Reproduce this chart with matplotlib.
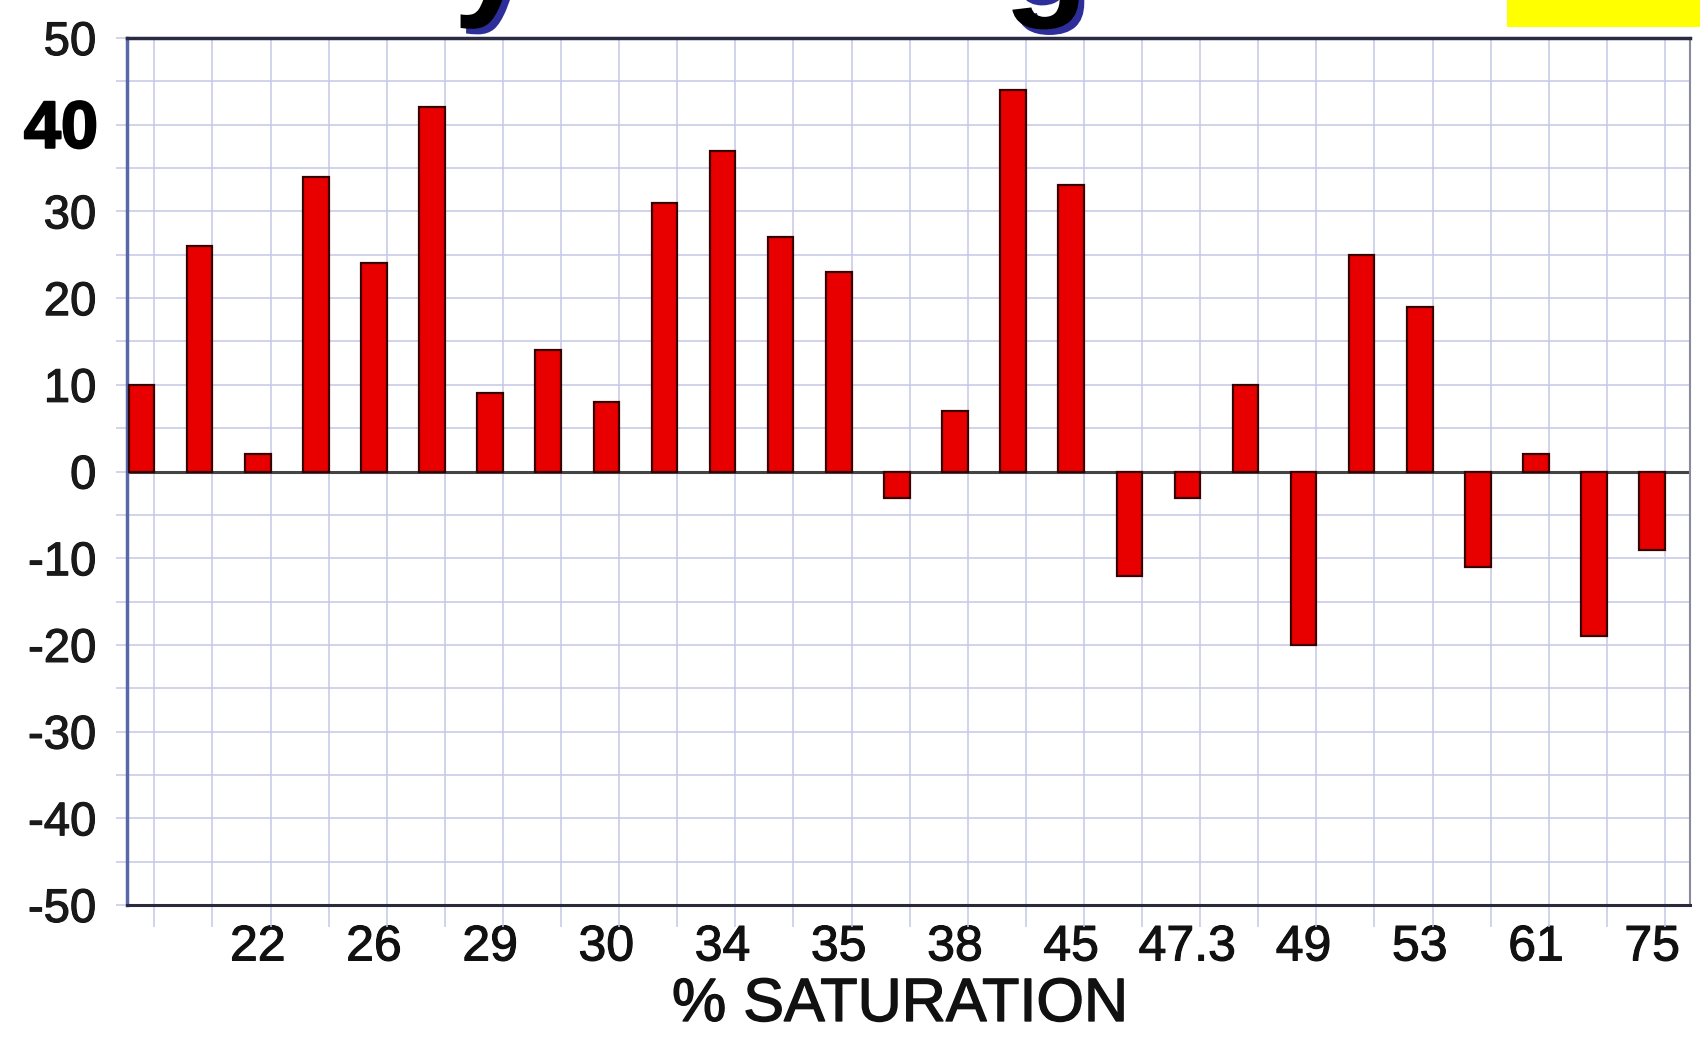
import matplotlib
matplotlib.use("Agg")
import matplotlib.pyplot as plt
import matplotlib.patheffects as pe
from matplotlib.patches import Rectangle
from matplotlib.ticker import FixedLocator, MultipleLocator

# ---- data ----
values = [10, 26, 2, 34, 24, 42, 9, 14, 8, 31, 37, 27, 23, -3, 7, 44, 33,
          -12, -3, 10, -20, 25, 19, -11, 2, -19, -9]
tick_labels = ["22", "26", "29", "30", "34", "35", "38", "45", "47.3",
               "49", "53", "61", "75"]
label_every = 2          # a label under every second bar, starting at the third
y_ticks = [50, 40, 30, 20, 10, 0, -10, -20, -30, -40, -50]
x_title = "% SATURATION"

W, H, DPI = 1700, 1038, 100
fig = plt.figure(figsize=(W / DPI, H / DPI), dpi=DPI)
fig.patch.set_facecolor("white")

ax = fig.add_axes([127 / W, 1 - 905 / H, (1690 - 127) / W, (905 - 38) / H])
ax.set_facecolor("white")

n = len(values)
xs = list(range(n))
bar_w = 0.44
ax.bar(xs, values, width=bar_w, color="#e80000", edgecolor="#3a0000",
       linewidth=1.6, zorder=3)

ax.set_xlim(-0.25, n - 1 + 0.65)
ax.set_ylim(-50, 50)

heavy = [pe.withStroke(linewidth=0.8, foreground="#111111")]

# horizontal grid every 5 units, labels every 10
ax.yaxis.set_major_locator(FixedLocator(y_ticks))
ax.yaxis.set_minor_locator(MultipleLocator(5))
grid_col = "#c4c8e6"
ax.grid(True, which="both", axis="y", color=grid_col, linewidth=1.1, zorder=0)

# vertical grid lines at the right edge of every bar
ax.xaxis.set_minor_locator(FixedLocator([x + bar_w / 2 for x in xs]))
ax.grid(True, which="minor", axis="x", color=grid_col, linewidth=1.1, zorder=0)

# x tick labels
label_pos = xs[2::label_every]
ax.set_xticks(label_pos)
ax.set_xticklabels(tick_labels, fontsize=36, family="Liberation Sans",
                   color="#111111")
for t in ax.get_xticklabels():
    t.set_path_effects(heavy)
ax.tick_params(axis="x", which="major", length=0, pad=14)
ax.tick_params(axis="x", which="minor", length=16, color=grid_col, width=1.1)

# y tick labels (the "40" is drawn as a bold overlay)
ylabels = ["" if v == 40 else str(v) for v in y_ticks]
ax.set_yticklabels(ylabels, fontsize=34, family="Liberation Sans",
                   color="#1a1a1a")
for t in ax.get_yticklabels():
    t.set_path_effects(heavy)
ax.tick_params(axis="y", which="both", length=8, color=grid_col, width=1.1,
               pad=14)
ax.annotate("40", xy=(0, 40), xycoords=("axes fraction", "data"),
            xytext=(-29, -6), textcoords="offset pixels",
            ha="right", va="center", fontsize=48, fontweight="bold",
            family="Liberation Sans", color="black", annotation_clip=False,
            path_effects=[pe.withStroke(linewidth=1.5, foreground="black")])

# zero line
ax.axhline(0, color="#444444", linewidth=2.2, zorder=2)

# spines
ax.spines["left"].set_color("#5a67a8")
ax.spines["left"].set_linewidth(2.5)
ax.spines["top"].set_color("#2a2a44")
ax.spines["top"].set_linewidth(2.5)
ax.spines["bottom"].set_color("#2a2a3a")
ax.spines["bottom"].set_linewidth(2.2)
ax.spines["right"].set_color("#8a8a9a")
ax.spines["right"].set_linewidth(1.5)

# x axis title
ax.set_xlabel(x_title, fontsize=44, family="Liberation Sans", color="#111111",
              path_effects=[pe.withStroke(linewidth=1.0, foreground="#111111")])
ax.xaxis.set_label_coords((900 - 127) / (1690 - 127), -0.083)

# cut-off slide title (only descenders visible) and yellow box
for ch, xc in (("y", 492), ("g", 1046)):
    fig.text(xc / W, 1.0, ch, fontsize=100, fontweight="bold",
             family="Liberation Sans", color="black", ha="center",
             va="baseline",
             path_effects=[pe.SimplePatchShadow(offset=(4, -4),
                                                shadow_rgbFace="#2e2e9a",
                                                alpha=1.0),
                           pe.Normal()])
fig.patches.append(Rectangle((1507 / W, 1 - 27 / H), (W - 1507) / W, 27 / H,
                             transform=fig.transFigure, facecolor="#ffff00",
                             edgecolor="none"))

fig.savefig("out.png", dpi=DPI)
